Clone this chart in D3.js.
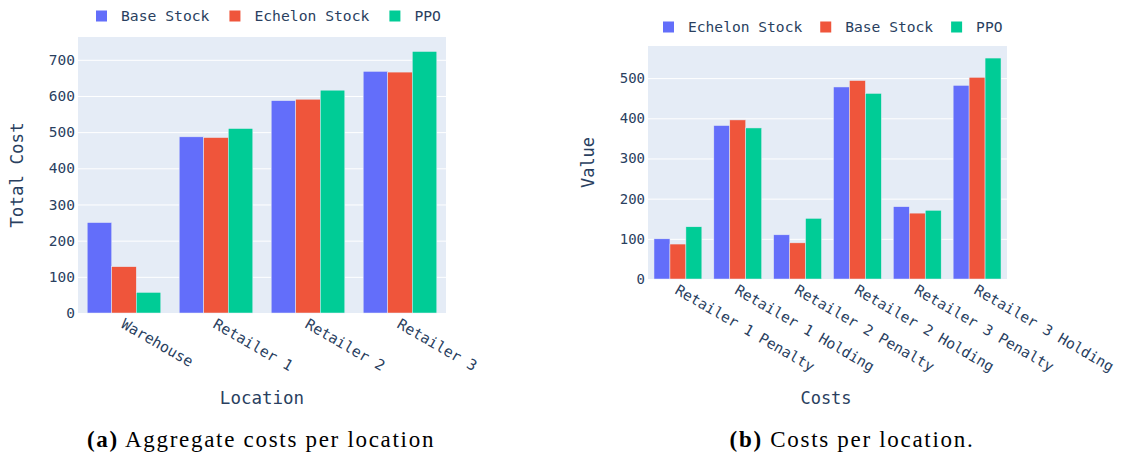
<!DOCTYPE html>
<html>
<head>
<meta charset="utf-8">
<script src="https://cdn.jsdelivr.net/npm/d3@7"></script>
<style>
  body { margin: 0; background: #fff; }
  svg { display: block; }
  .tick text { font-family: "DejaVu Sans Mono", monospace; fill: #2a3f5f; }
</style>
</head>
<body>
<div id="chart"></div>
<script>
// ---- data: chart (a) ----
const locations = ["Warehouse", "Retailer 1", "Retailer 2", "Retailer 3"];
const locSeries = ["Base Stock", "Echelon Stock", "PPO"];
const locBase = [250, 487, 587, 668];
const locEchelon = [128, 485, 591, 666];
const locPPO = [57, 510, 616, 723];
const locTicks = [0, 100, 200, 300, 400, 500, 600, 700];

// ---- data: chart (b) ----
const costs = ["Retailer 1 Penalty", "Retailer 1 Holding", "Retailer 2 Penalty",
  "Retailer 2 Holding", "Retailer 3 Penalty", "Retailer 3 Holding"];
const costSeries = ["Echelon Stock", "Base Stock", "PPO"];
const costEchelon = [100, 382, 110, 478, 180, 482];
const costBase = [87, 396, 90, 494, 164, 502];
const costPPO = [130, 376, 151, 462, 171, 550];
const costTicks = [0, 100, 200, 300, 400, 500];

const colors = ["#636efa", "#EF553B", "#00cc96"];
const mono = "DejaVu Sans Mono, monospace";

const svg = d3.select("#chart")
  .append("svg")
  .attr("width", 1123)
  .attr("height", 461);

function drawChart(o) {
  const x = d3.scaleBand().domain(o.cats).range([o.left, o.right]).paddingInner(0.2).paddingOuter(0.1);
  const xs = d3.scaleBand().domain(o.series).range([0, x.bandwidth()]);
  const y = d3.scaleLinear().domain([0, o.ymax]).range([o.bottom, o.top]);

  // plot background
  svg.append("rect")
    .attr("x", o.left).attr("y", o.top)
    .attr("width", o.right - o.left).attr("height", o.bottom - o.top)
    .attr("fill", "#E5ECF6");

  // gridlines + y ticks
  const yAxis = svg.append("g")
    .attr("transform", `translate(${o.left},0)`)
    .call(d3.axisLeft(y).tickValues(o.ticks).tickSize(-(o.right - o.left)).tickPadding(3));
  yAxis.select(".domain").remove();
  yAxis.selectAll(".tick line").attr("stroke", "#fff").attr("stroke-width", 1);
  yAxis.selectAll(".tick text").attr("font-size", o.tickFs);

  // bars
  const rows = o.cats.map((c, i) => ({ cat: c, vals: o.values.map(v => v[i]) }));
  const groups = svg.append("g").selectAll("g")
    .data(rows)
    .join("g")
    .attr("transform", d => `translate(${x(d.cat)},0)`);
  groups.selectAll("rect")
    .data(d => d.vals.map((v, j) => ({ v: v, j: j })))
    .join("rect")
    .attr("x", d => xs(o.series[d.j]))
    .attr("y", d => y(d.v))
    .attr("width", xs.bandwidth())
    .attr("height", d => y(0) - y(d.v))
    .attr("fill", d => colors[d.j])
    .attr("stroke", "#E5ECF6")
    .attr("stroke-width", 0.5);

  // x tick labels (rotated)
  const xAxis = svg.append("g")
    .attr("transform", `translate(0,${o.bottom})`)
    .call(d3.axisBottom(x).tickSize(0).tickPadding(0));
  xAxis.select(".domain").remove();
  xAxis.selectAll(".tick text")
    .attr("font-size", o.xtickFs)
    .attr("text-anchor", "start")
    .attr("y", 0).attr("dy", 0)
    .attr("transform", "translate(-4,14) rotate(30)");

  // axis titles
  svg.append("text")
    .attr("transform", `translate(${o.ytitleX},${(o.top + o.bottom) / 2}) rotate(-90)`)
    .attr("text-anchor", "middle")
    .attr("font-family", mono)
    .attr("font-size", o.titleFs)
    .attr("fill", "#2a3f5f")
    .text(o.ytitle);
  svg.append("text")
    .attr("x", o.xtitleX).attr("y", o.xtitleY)
    .attr("text-anchor", "middle")
    .attr("font-family", mono)
    .attr("font-size", o.titleFs)
    .attr("fill", "#2a3f5f")
    .text(o.xtitle);

  // legend
  const leg = svg.append("g").attr("transform", `translate(${o.legX},${o.legY})`);
  let cx = 0;
  o.series.forEach((s, j) => {
    leg.append("rect")
      .attr("x", cx).attr("y", -5.5).attr("width", 11).attr("height", 11)
      .attr("fill", colors[j]);
    const t = leg.append("text")
      .attr("x", cx + 25).attr("y", 5)
      .attr("font-family", mono)
      .attr("font-size", o.legFs)
      .attr("fill", "#2a3f5f")
      .text(s);
    cx += 25 + t.node().getComputedTextLength() + o.legGap;
  });

  // caption
  const cap = svg.append("text")
    .attr("x", o.capX).attr("y", o.capY)
    .attr("text-anchor", "middle")
    .attr("font-family", "Liberation Serif, serif")
    .attr("font-size", 23)
    .attr("letter-spacing", 1.7)
    .attr("fill", "#000");
  cap.append("tspan").attr("font-weight", "bold").text(o.capTag);
  cap.append("tspan").text(" " + o.caption);
}

drawChart({
  cats: locations, series: locSeries, values: [locBase, locEchelon, locPPO],
  ticks: locTicks, ymax: 763,
  left: 78, right: 446, top: 37, bottom: 313,
  tickFs: 14.5, xtickFs: 14.8, titleFs: 17.5, legFs: 14.7, legGap: 20,
  ytitle: "Total Cost", ytitleX: 23, xtitle: "Location", xtitleX: 262, xtitleY: 404,
  legX: 96, legY: 16,
  capTag: "(a)", caption: "Aggregate costs per location", capX: 261, capY: 447
});

drawChart({
  cats: costs, series: costSeries, values: [costEchelon, costBase, costPPO],
  ticks: costTicks, ymax: 580,
  left: 648, right: 1007, top: 46, bottom: 279,
  tickFs: 14, xtickFs: 14.6, titleFs: 17, legFs: 14.6, legGap: 18,
  ytitle: "Value", ytitleX: 594, xtitle: "Costs", xtitleX: 826, xtitleY: 404,
  legX: 663, legY: 27,
  capTag: "(b)", caption: "Costs per location.", capX: 852, capY: 447
});
</script>
</body>
</html>
